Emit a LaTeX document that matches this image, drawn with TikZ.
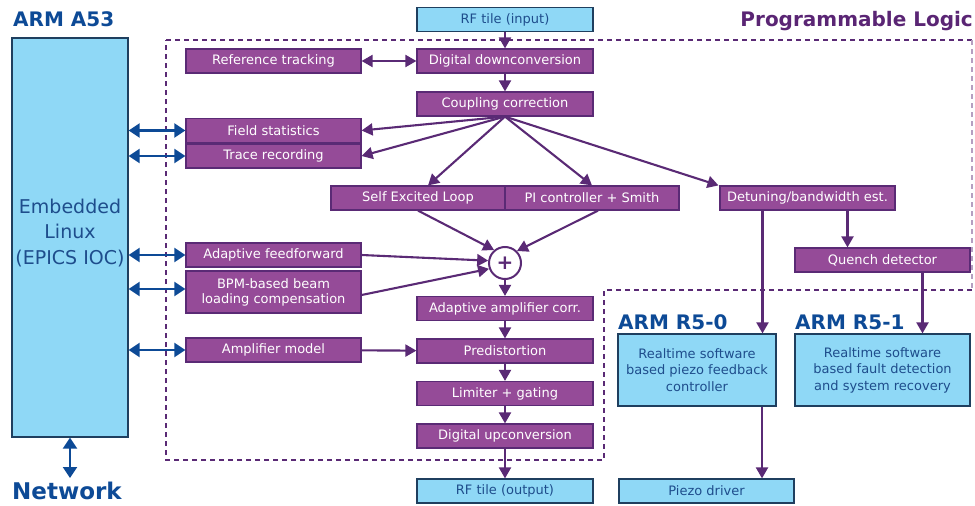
\documentclass[tikz,border=0pt]{standalone}
\usepackage{fontspec}
\setmainfont{DejaVu Sans}
\usepackage{tikz}
\usetikzlibrary{arrows.meta}

\definecolor{plfill}{HTML}{954B98}
\definecolor{plline}{HTML}{5A2A75}
\definecolor{pltitle}{HTML}{5A2574}
\definecolor{cpufill}{HTML}{8FD8F6}
\definecolor{cpuline}{HTML}{1F3F5F}
\definecolor{cputext}{HTML}{1E4D8C}
\definecolor{armblue}{HTML}{0D4A96}

\tikzset{
  plbox/.style={draw=plline, fill=plfill, line width=1.2pt, text=white, inner sep=0pt,
    minimum width=175pt, minimum height=24pt, align=center,
    font=\fontsize{13}{16}\selectfont},
  cpubox/.style={draw=cpuline, fill=cpufill, line width=1.2pt, text=cputext, inner sep=0pt,
    minimum width=176pt, minimum height=24pt, align=center,
    font=\fontsize{13}{16.5}\selectfont},
  armlabel/.style={text=armblue, inner sep=0pt, font=\fontsize{20}{24}\selectfont\bfseries},
  plarrow/.style={draw=plline, line width=2.1pt, -{Triangle[length=11pt,width=12pt]}},
  plboth/.style={plarrow, {Triangle[length=11pt,width=12pt]}-{Triangle[length=11pt,width=12pt]}},
  linkarrow/.style={draw=armblue, line width=2.1pt,
    {Triangle[length=11pt,width=14pt]}-{Triangle[length=11pt,width=14pt]}},
  plregion/.style={draw=plline, line width=2.4pt, dash pattern=on 5pt off 4pt}
}

\begin{document}
\begin{tikzpicture}[x=1pt, y=-1pt]
\useasboundingbox (0,0) rectangle (975,506);

% programmable logic area
\draw[plregion] (166,40) -- (972,40);
\draw[plregion, draw=plline!45, line width=1.2pt] (972,40) -- (972,290);
\draw[plregion] (972,290) -- (604,290) -- (604,460) -- (166,460) -- (166,40);
\node[anchor=base east, text=pltitle, inner sep=0pt, font=\fontsize{20}{24}\selectfont\bfseries] (pltitle) at (973,27) {Programmable Logic};

% processors
\node[cpubox, minimum width=116pt, minimum height=399pt] (a53) at (70,237.5) {};
\node[text=cputext, align=center, inner sep=0pt, font=\fontsize{19}{25.5}\selectfont] (linux) at (70,233) {Embedded\\Linux\\(EPICS IOC)};
\node[armlabel, anchor=base west] (a53title) at (13,27) {ARM A53};
\node[armlabel, anchor=base west, font=\fontsize{23}{27}\selectfont\bfseries] (network) at (12,499) {Network};

\node[cpubox, minimum width=158pt, minimum height=72pt] (r50) at (697,370) {Realtime software\\based piezo feedback\\controller};
\node[cpubox, minimum width=175pt, minimum height=72pt] (r51) at (882.5,370) {Realtime software\\based fault detection\\and system recovery};
\node[armlabel, anchor=base west] (r50title) at (618,329) {ARM R5-0};
\node[armlabel, anchor=base west] (r51title) at (795,329) {ARM R5-1};

\node[cpubox] (rfin) at (505,19.5) {RF tile (input)};
\node[cpubox] (rfout) at (505,491) {RF tile (output)};
\node[cpubox, minimum width=175pt] (piezo) at (706.5,491) {Piezo driver};

% firmware blocks
\node[plbox] (reftrack) at (273.5,61) {Reference tracking};
\node[plbox, minimum width=176pt] (ddc) at (505,61) {Digital downconversion};
\node[plbox, minimum width=176pt] (coupl) at (505,104) {Coupling correction};
\node[plbox] (fstat) at (273.5,130.5) {Field statistics};
\node[plbox] (trace) at (273.5,156) {Trace recording};
\node[plbox, minimum width=174pt] (sel) at (418,198) {Self Excited Loop};
\node[plbox, minimum width=174pt] (pic) at (592,198) {PI controller + Smith};
\node[plbox] (detune) at (807.5,198) {Detuning/bandwidth est.};
\node[plbox] (quench) at (882.5,260) {Quench detector};
\node[plbox] (aff) at (273.5,255) {Adaptive feedforward};
\node[plbox, minimum height=42pt, font=\fontsize{13}{15}\selectfont] (bpm) at (273.5,292) {BPM-based beam\\loading compensation};
\node[circle, draw=plline, fill=white, line width=2pt, minimum size=32pt, inner sep=0pt,
  text=plline, font=\fontsize{20}{20}\selectfont\bfseries] (sum) at (505,263) {+};
\node[plbox, minimum width=176pt] (aac) at (505,308.5) {Adaptive amplifier corr.};
\node[plbox] (ampmod) at (273.5,350) {Amplifier model};
\node[plbox, minimum width=176pt] (predist) at (505,351) {Predistortion};
\node[plbox, minimum width=176pt] (limit) at (505,393.5) {Limiter + gating};
\node[plbox, minimum width=176pt] (duc) at (505,436) {Digital upconversion};

% signal path
\draw[plarrow] (rfin) -- (ddc);
\draw[plboth] (reftrack) -- (ddc);
\draw[plarrow] (ddc) -- (coupl);
\draw[plarrow] (coupl.south) -- (fstat.east);
\draw[plarrow] (coupl.south) -- (trace.east);
\draw[plarrow] (coupl.south) -- ([xshift=10pt]sel.north);
\draw[plarrow] (coupl.south) -- (pic.north);
\draw[plarrow] (coupl.south) -- ([xshift=-89pt]detune.north);
\draw[plarrow] (sel.south) -- (sum.130);
\draw[plarrow] ([xshift=6pt]pic.south) -- (sum.45);
\draw[plarrow] (aff.east) -- (sum.172);
\draw[plarrow] ([yshift=-3pt]bpm.east) -- (sum.200);
\draw[plarrow] (sum) -- (aac);
\draw[plarrow] (aac) -- (predist);
\draw[plarrow] (ampmod) -- (predist);
\draw[plarrow] (predist) -- (limit);
\draw[plarrow] (limit) -- (duc);
\draw[plarrow] (duc) -- (rfout);

% to the realtime cores
\draw[plarrow] ([xshift=-45pt]detune.south) -- ([xshift=-45pt]detune.south |- r50.north);
\draw[plarrow] ([xshift=40pt]detune.south) -- ([xshift=40pt]detune.south |- quench.north);
\draw[plarrow] ([xshift=40pt]quench.south) -- ([xshift=40pt]quench.south |- r51.north);
\draw[plarrow] ([xshift=65pt]r50.south) -- ([xshift=65pt]r50.south |- piezo.north);

% links to the linux side
\foreach \blk in {fstat, trace, aff, ampmod}
  \draw[linkarrow] (a53.east |- \blk.west) -- (\blk.west);
\draw[linkarrow] (a53.east |- 0,289) -- (bpm.west |- 0,289);
\draw[linkarrow] (a53.south) -- (a53.south |- 0,478);
\end{tikzpicture}
\end{document}
